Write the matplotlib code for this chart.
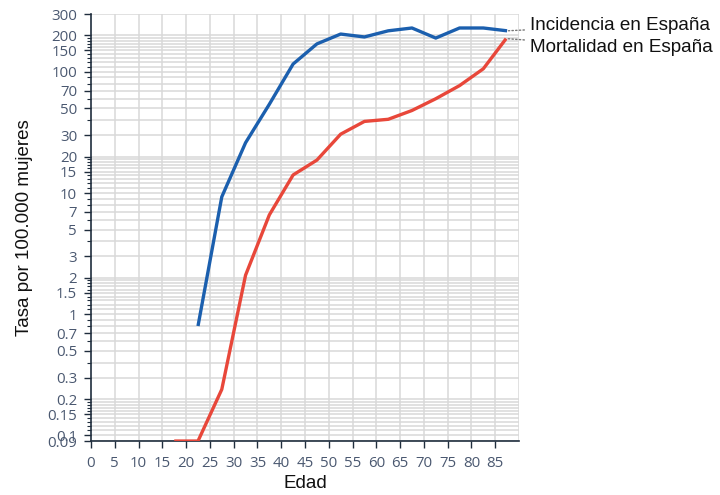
import matplotlib
matplotlib.use("Agg")
import matplotlib.pyplot as plt
from matplotlib.ticker import FixedLocator, FixedFormatter, NullFormatter

# ---- data ----
edad_inc = [22.5, 27.5, 32.5, 37.5, 42.5, 47.5, 52.5, 57.5, 62.5, 67.5, 72.5, 77.5, 82.5, 87.5]
incidencia = [0.8, 9.3, 26, 54, 116, 170, 205, 194, 218, 230, 190, 230, 230, 218]

edad_mort = [17.5, 22.5, 27.5, 32.5, 37.5, 42.5, 47.5, 52.5, 57.5, 62.5, 67.5, 72.5, 77.5, 82.5, 87.3]
mortalidad = [0.09, 0.09, 0.24, 2.1, 6.6, 14.1, 18.7, 30.6, 39, 40.6, 48, 60, 77, 106, 188]

x_ticks = [0, 5, 10, 15, 20, 25, 30, 35, 40, 45, 50, 55, 60, 65, 70, 75, 80, 85]
y_ticks = [300, 200, 150, 100, 70, 50, 30, 20, 15, 10, 7, 5, 3, 2, 1.5, 1,
           0.7, 0.5, 0.3, 0.2, 0.15, 0.1, 0.09]
y_tick_labels = ["300", "200", "150", "100", "70", "50", "30", "20", "15", "10", "7", "5",
                 "3", "2", "1.5", "1", "0.7", "0.5", "0.3", "0.2", "0.15", "0.1", "0.09"]
y_minor = [110, 120, 130, 140, 160, 170, 180, 190, 90, 80, 60, 40,
           11, 12, 13, 14, 16, 17, 18, 19, 9, 8, 6, 4,
           1.1, 1.2, 1.3, 1.4, 1.6, 1.7, 1.8, 1.9, 0.9, 0.8, 0.6, 0.4,
           0.11, 0.12, 0.13, 0.14, 0.16, 0.17, 0.18, 0.19]

label_inc = "Incidencia en España"
label_mort = "Mortalidad en España"

# ---- style ----
tick_color = "#4a5870"
spine_color = "#1f2d3d"
grid_color = "#d9d9d9"
blue = "#1b5fae"
red = "#e8473a"

fig = plt.figure(figsize=(7.2, 4.95), dpi=100)
ax = fig.add_axes([0.1264, 0.109, 0.5944, 0.8627])

ax.set_yscale("log")
ax.set_ylim(0.09, 300)
ax.set_xlim(0, 90)

ax.yaxis.set_major_locator(FixedLocator(y_ticks))
ax.yaxis.set_major_formatter(FixedFormatter(y_tick_labels))
ax.yaxis.set_minor_locator(FixedLocator(y_minor))
ax.yaxis.set_minor_formatter(NullFormatter())
ax.xaxis.set_major_locator(FixedLocator(x_ticks))

ax.grid(True, which="major", axis="y", color=grid_color, linewidth=1.1, zorder=0)
ax.grid(True, which="minor", axis="y", color=grid_color, linewidth=1.1, zorder=0)
for xv in x_ticks[1:] + [90]:
    ax.axvline(xv, color=grid_color, linewidth=1.1, zorder=0)

for s in ["top", "right"]:
    ax.spines[s].set_visible(False)
for s in ["left", "bottom"]:
    ax.spines[s].set_color(spine_color)
    ax.spines[s].set_linewidth(1.2)

ax.tick_params(axis="both", which="major", length=5, width=1, color=spine_color,
               labelcolor=tick_color, labelsize=10.8, pad=5)
ax.tick_params(axis="x", which="major", pad=6)
ax.tick_params(axis="y", which="minor", length=3, width=0.8, color=spine_color)
for lab in ax.get_xticklabels() + ax.get_yticklabels():
    lab.set_fontfamily("Open Sans")

ax.plot(edad_inc, incidencia, color=blue, linewidth=2.4, zorder=3, solid_capstyle="butt")
ax.plot(edad_mort, mortalidad, color=red, linewidth=2.4, zorder=3, solid_capstyle="butt")

ax.set_xlabel("Edad", fontsize=13.5, family="Liberation Sans", color="#111111", labelpad=3)
ax.set_ylabel("Tasa por 100.000 mujeres", fontsize=13.5, family="Liberation Sans",
              color="#111111", labelpad=10)

# labels with dotted leaders
ax.annotate(label_inc, xy=(edad_inc[-1], incidencia[-1]), xycoords="data",
             xytext=(0.736, 0.949), textcoords="figure fraction",
             fontsize=13.6, family="Liberation Sans", color="#111111", va="center", ha="left",
             arrowprops=dict(arrowstyle="-", linestyle=":", color="#777777", lw=1,
                             shrinkA=2, shrinkB=1),
             annotation_clip=False)
ax.annotate(label_mort, xy=(edad_mort[-1], mortalidad[-1]), xycoords="data",
             xytext=(0.736, 0.905), textcoords="figure fraction",
             fontsize=13.6, family="Liberation Sans", color="#111111", va="center", ha="left",
             arrowprops=dict(arrowstyle="-", linestyle=":", color="#777777", lw=1,
                             shrinkA=2, shrinkB=1),
             annotation_clip=False)

fig.savefig("out.png", dpi=100)
